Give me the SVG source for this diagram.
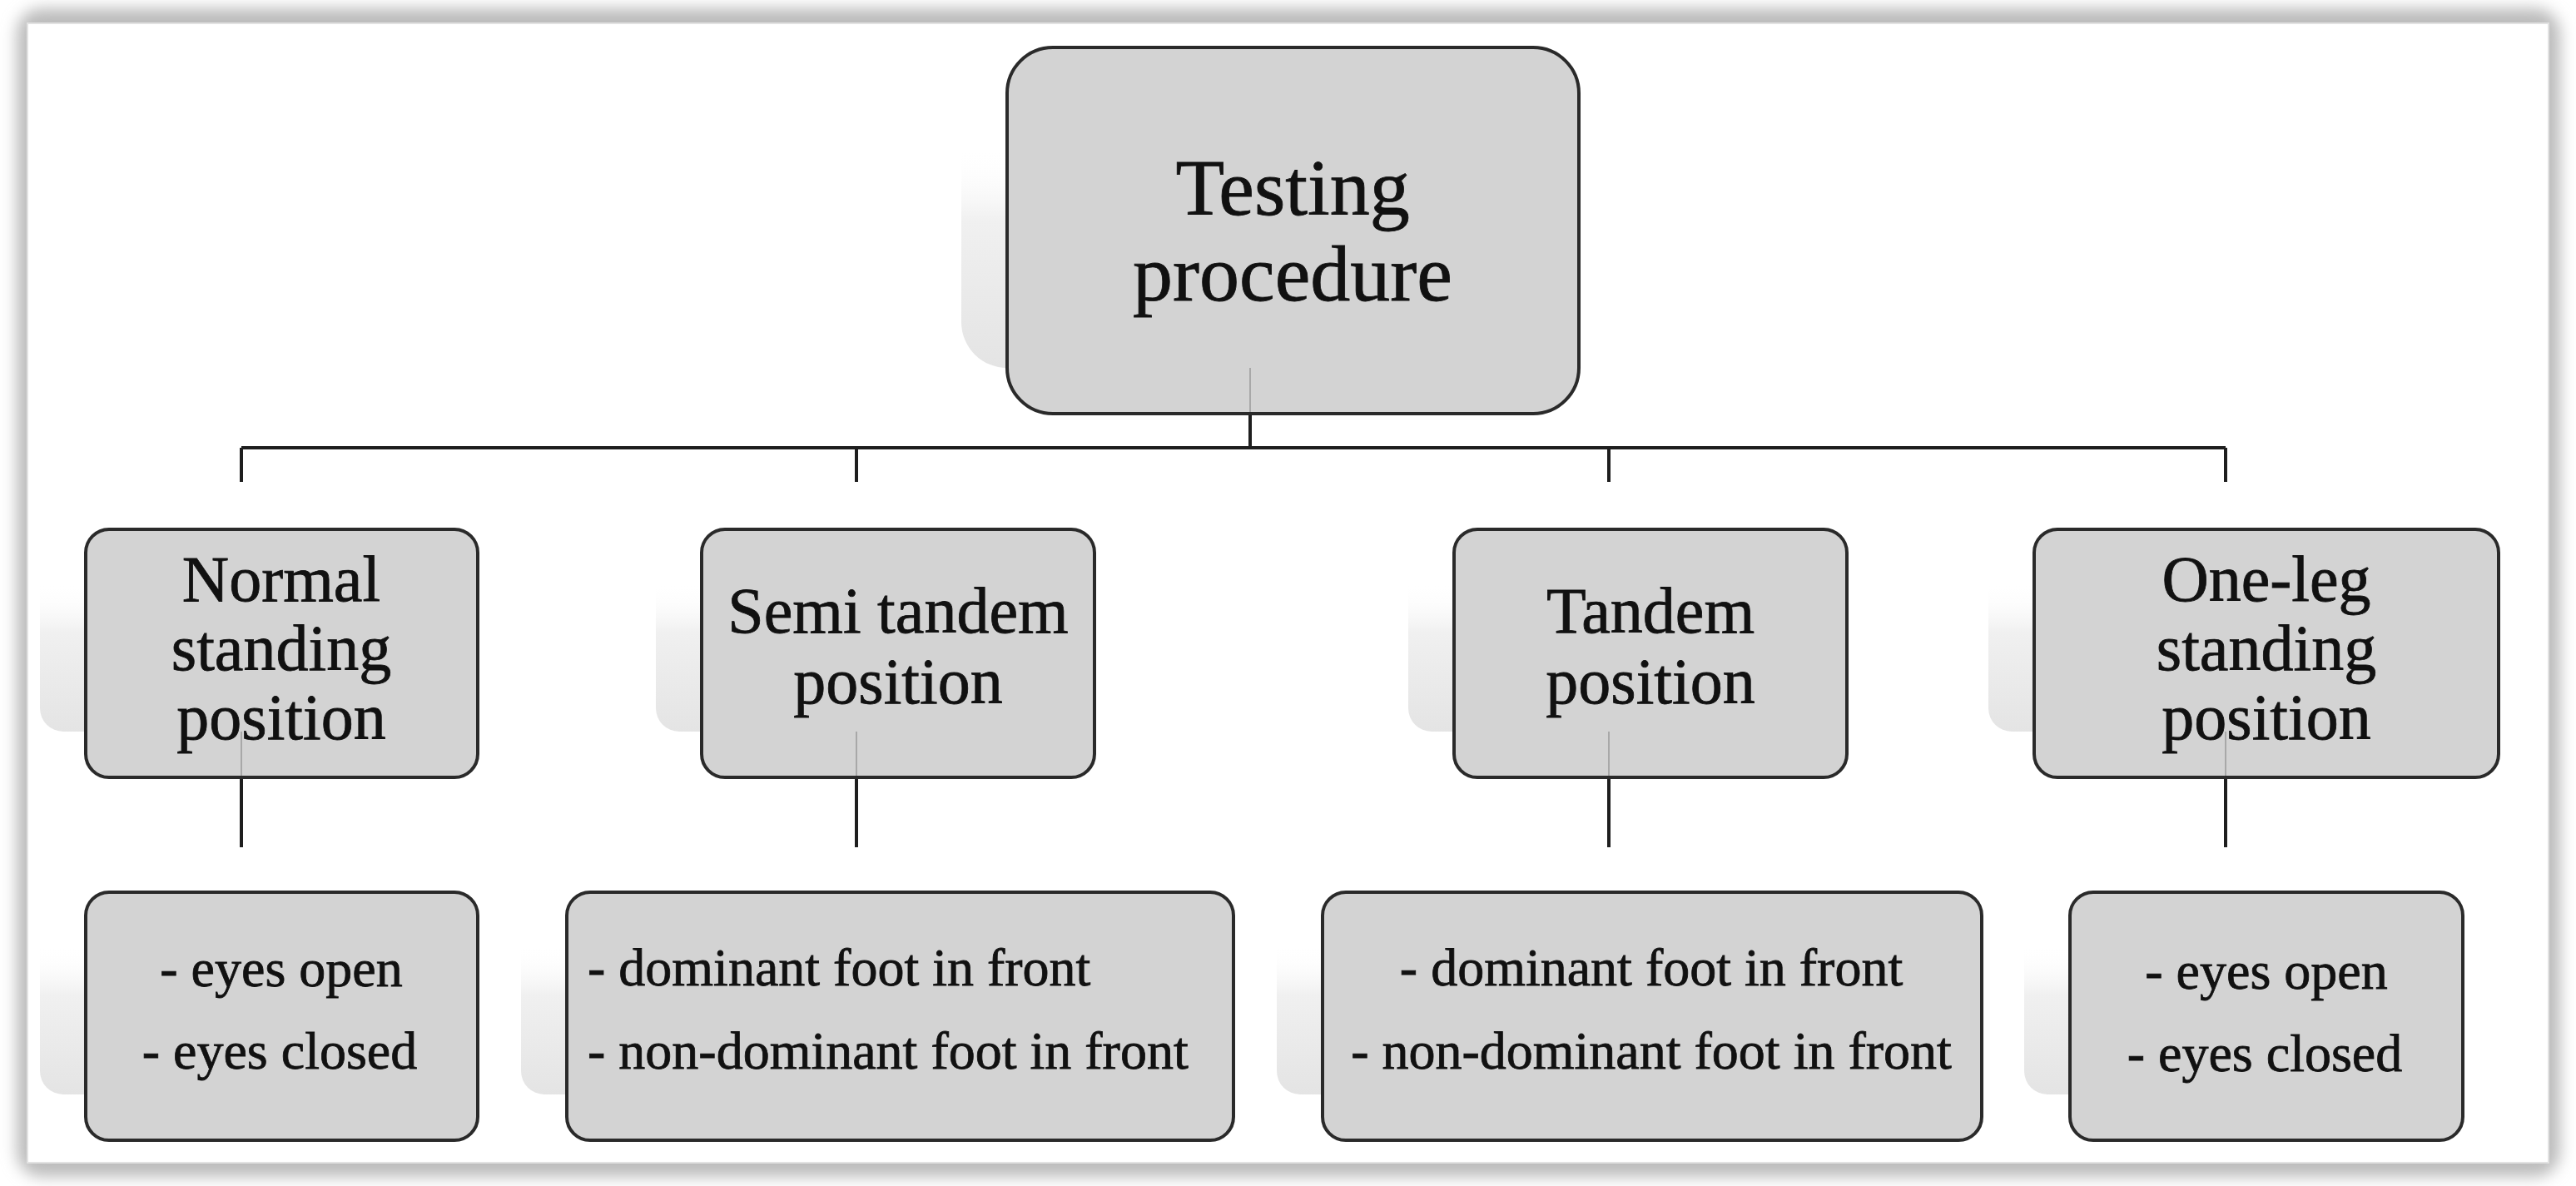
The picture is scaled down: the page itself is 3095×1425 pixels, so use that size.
<svg xmlns="http://www.w3.org/2000/svg" width="3095" height="1425" viewBox="0 0 3095 1425">
<style>
.box{fill:#d3d3d3;stroke:#2a2a2a;stroke-width:4}
.sh{fill:url(#shg)}
.t{font-family:"Liberation Serif","Times New Roman",serif;fill:#111;stroke:#111;stroke-width:0.8;text-anchor:middle}
.t1{font-size:96px}
.t2{font-size:78px}
.t3{font-size:64px}
.ln{stroke:#1e1e1e;stroke-width:4;fill:none}
.fl{stroke:#9a9a9a;stroke-width:1.5;fill:none}
</style>
<defs>
<linearGradient id="shg" x1="0" y1="0" x2="0" y2="1">
<stop offset="0" stop-color="#ffffff" stop-opacity="0"/>
<stop offset="0.4" stop-color="#ffffff" stop-opacity="0"/>
<stop offset="0.6" stop-color="#f0f0f0" stop-opacity="1"/>
<stop offset="1" stop-color="#e4e4e4" stop-opacity="1"/>
</linearGradient>
<filter id="glow" x="-5%" y="-5%" width="110%" height="110%">
<feGaussianBlur stdDeviation="9"/>
</filter>
</defs>
<g id="frame">
<rect x="20" y="10" width="3056" height="1404" rx="30" fill="#bcbcbc" filter="url(#glow)"/>
<rect x="33" y="28" width="3029" height="1369" fill="#ffffff" stroke="#e2e2e2" stroke-width="2"/>
</g>
<g id="shadows">
<rect class="sh" x="1155" y="2" width="687" height="440" rx="55"/>
<rect class="sh" x="48" y="581" width="471" height="298" rx="28"/>
<rect class="sh" x="788" y="581" width="472" height="298" rx="28"/>
<rect class="sh" x="1692" y="581" width="472" height="298" rx="28"/>
<rect class="sh" x="2389" y="581" width="558" height="298" rx="28"/>
<rect class="sh" x="48" y="1017" width="471" height="298" rx="28"/>
<rect class="sh" x="626" y="1017" width="801" height="298" rx="28"/>
<rect class="sh" x="1534" y="1017" width="792" height="298" rx="28"/>
<rect class="sh" x="2432" y="1017" width="472" height="298" rx="28"/>
</g>
<g id="connectors">
<line class="ln" x1="1502" y1="497" x2="1502" y2="538"/>
<line class="ln" x1="290" y1="538" x2="2674" y2="538"/>
<line class="ln" x1="290" y1="538" x2="290" y2="579"/>
<line class="ln" x1="1029" y1="538" x2="1029" y2="579"/>
<line class="ln" x1="1933" y1="538" x2="1933" y2="579"/>
<line class="ln" x1="2674" y1="538" x2="2674" y2="579"/>
<line class="ln" x1="290" y1="934" x2="290" y2="1018"/>
<line class="ln" x1="1029" y1="934" x2="1029" y2="1018"/>
<line class="ln" x1="1933" y1="934" x2="1933" y2="1018"/>
<line class="ln" x1="2674" y1="934" x2="2674" y2="1018"/>
</g>
<g id="n-root">
<rect class="box" x="1210" y="57" width="687" height="440" rx="55"/>
<line class="fl" x1="1502" y1="442" x2="1502" y2="495"/>
<text class="t t1" x="1553" y="258">Testing</text>
<text class="t t1" x="1553" y="361">procedure</text>
</g>
<g id="n-normal">
<rect class="box" x="103" y="636" width="471" height="298" rx="28"/>
<line class="fl" x1="290" y1="879" x2="290" y2="932"/>
<text class="t t2" x="338" y="722">Normal</text>
<text class="t t2" x="338" y="805">standing</text>
<text class="t t2" x="338" y="888">position</text>
</g>
<g id="n-semi">
<rect class="box" x="843" y="636" width="472" height="298" rx="28"/>
<line class="fl" x1="1029" y1="879" x2="1029" y2="932"/>
<text class="t t2" x="1079" y="760">Semi tandem</text>
<text class="t t2" x="1079" y="845">position</text>
</g>
<g id="n-tandem">
<rect class="box" x="1747" y="636" width="472" height="298" rx="28"/>
<line class="fl" x1="1933" y1="879" x2="1933" y2="932"/>
<text class="t t2" x="1983" y="760">Tandem</text>
<text class="t t2" x="1983" y="845">position</text>
</g>
<g id="n-oneleg">
<rect class="box" x="2444" y="636" width="558" height="298" rx="28"/>
<line class="fl" x1="2674" y1="879" x2="2674" y2="932"/>
<text class="t t2" x="2723" y="722">One-leg</text>
<text class="t t2" x="2723" y="805">standing</text>
<text class="t t2" x="2723" y="888">position</text>
</g>
<g id="n-normal-sub">
<rect class="box" x="103" y="1072" width="471" height="298" rx="28"/>
<text class="t t3" x="338" y="1185">- eyes open</text>
<text class="t t3" x="336" y="1284">- eyes closed</text>
</g>
<g id="n-semi-sub">
<rect class="box" x="681" y="1072" width="801" height="298" rx="28"/>
<text class="t t3" x="706" y="1184" style="text-anchor:start">- dominant foot in front</text>
<text class="t t3" x="706" y="1284" style="text-anchor:start">- non-dominant foot in front</text>
</g>
<g id="n-tandem-sub">
<rect class="box" x="1589" y="1072" width="792" height="298" rx="28"/>
<text class="t t3" x="1984" y="1184">- dominant foot in front</text>
<text class="t t3" x="1984" y="1284">- non-dominant foot in front</text>
</g>
<g id="n-oneleg-sub">
<rect class="box" x="2487" y="1072" width="472" height="298" rx="28"/>
<text class="t t3" x="2723" y="1188">- eyes open</text>
<text class="t t3" x="2721" y="1287">- eyes closed</text>
</g>
</svg>
